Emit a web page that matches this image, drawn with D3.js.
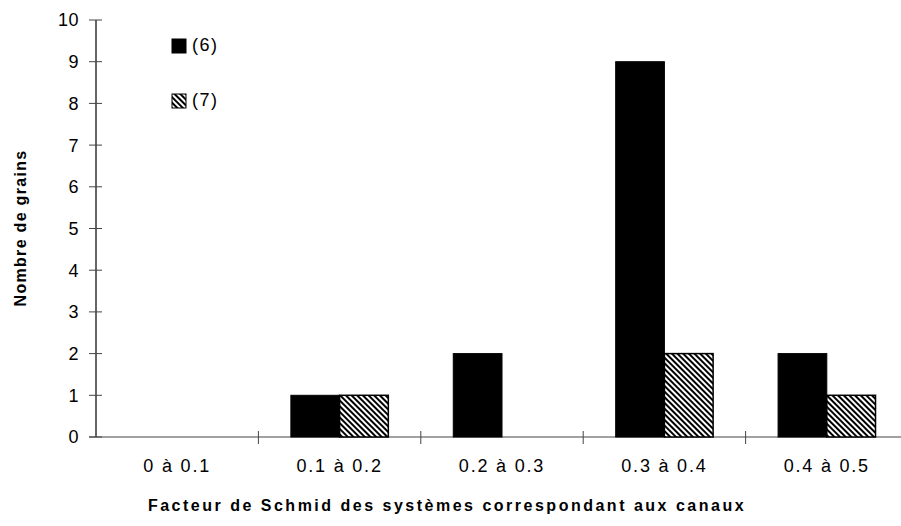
<!DOCTYPE html>
<html><head><meta charset="utf-8">
<script src="https://cdn.jsdelivr.net/npm/d3@7"></script>
<style>body{margin:0;background:#fff}svg{display:block}</style>
</head><body>
<svg id="c" width="901" height="526"></svg>
<script>
const categories = ["0 à 0.1","0.1 à 0.2","0.2 à 0.3","0.3 à 0.4","0.4 à 0.5"];
const series6 = [0,1,2,9,2];
const series7 = [0,1,0,2,1];
const seriesNames = ["(6)","(7)"];
const yTicks = [0,1,2,3,4,5,6,7,8,9,10];

const FONT = "Liberation Sans, Arial, sans-serif";
const svg = d3.select("#c");
const defs = svg.append("defs");
const pat = defs.append("pattern").attr("id","hatch").attr("patternUnits","userSpaceOnUse")
  .attr("width",4).attr("height",4).attr("patternTransform","rotate(-45)");
pat.append("rect").attr("width",4).attr("height",4).attr("fill","#fff");
pat.append("rect").attr("x",0).attr("y",0).attr("width",2).attr("height",4).attr("fill","#000");

const x = d3.scaleBand().domain(categories).range([96,908]).paddingInner(0).paddingOuter(0);
const y = d3.scaleLinear().domain([0,10]).range([437,20]);
const bw = x.bandwidth()*0.3;

// y axis
const ya = svg.append("g");
ya.append("line").attr("x1",96).attr("x2",96).attr("y1",y(10)).attr("y2",y(0)).attr("stroke","#000").attr("stroke-width",1.2);
ya.selectAll("line.t").data(yTicks).join("line").attr("class","t")
  .attr("x1",89).attr("x2",102).attr("y1",d=>y(d)).attr("y2",d=>y(d)).attr("stroke","#444").attr("stroke-width",1);
ya.selectAll("text").data(yTicks).join("text")
  .attr("x",79).attr("y",d=>y(d)).attr("dy","0.36em").attr("text-anchor","end")
  .attr("font-family",FONT).attr("font-size",18).attr("letter-spacing","0.5px").text(d=>d);

// x axis
const xa = svg.append("g");
xa.append("line").attr("x1",89).attr("x2",901).attr("y1",y(0)).attr("y2",y(0)).attr("stroke","#444").attr("stroke-width",1.2);
const bounds = categories.map(c=>x(c));
xa.selectAll("line.t").data(bounds.slice(1)).join("line").attr("class","t")
  .attr("x1",d=>d).attr("x2",d=>d).attr("y1",y(0)-6).attr("y2",y(0)+7).attr("stroke","#444");
xa.selectAll("text").data(categories).join("text")
  .attr("x",d=>x(d)+x.bandwidth()/2).attr("y",472).attr("text-anchor","middle")
  .attr("font-family",FONT).attr("font-size",18).attr("letter-spacing","1.8px").text(d=>d);

// bars
const g = svg.append("g");
g.selectAll("rect.s6").data(categories.map((c,i)=>({c,v:series6[i]})).filter(d=>d.v>0)).join("rect")
  .attr("x",d=>x(d.c)+x.bandwidth()/2-bw).attr("width",bw)
  .attr("y",d=>y(d.v)).attr("height",d=>y(0)-y(d.v))
  .attr("fill","#000").attr("stroke","#000").attr("stroke-width",1);
g.selectAll("rect.s7").data(categories.map((c,i)=>({c,v:series7[i]})).filter(d=>d.v>0)).join("rect")
  .attr("x",d=>x(d.c)+x.bandwidth()/2).attr("width",bw)
  .attr("y",d=>y(d.v)).attr("height",d=>y(0)-y(d.v))
  .attr("fill","url(#hatch)").attr("stroke","#000").attr("stroke-width",1.5);

// legend
const lg = svg.append("g");
const legY = [46,101];
lg.selectAll("rect").data(seriesNames).join("rect")
  .attr("x",172).attr("y",(d,i)=>legY[i]-7).attr("width",14).attr("height",14)
  .attr("fill",(d,i)=>i===0?"#000":"url(#hatch)").attr("stroke","#000").attr("stroke-width",1);
lg.selectAll("text").data(seriesNames).join("text")
  .attr("x",192).attr("y",(d,i)=>legY[i]).attr("dy","0.3em")
  .attr("font-family",FONT).attr("font-size",18).attr("letter-spacing","1.5px").text(d=>d);

// titles
svg.append("text").attr("x",447).attr("y",511).attr("text-anchor","middle")
  .attr("font-family",FONT).attr("font-size",16).attr("font-weight","bold")
  .attr("letter-spacing","2.5px").text("Facteur de Schmid des systèmes correspondant aux canaux");
svg.append("text").attr("transform","translate(26,228) rotate(-90)").attr("text-anchor","middle")
  .attr("font-family",FONT).attr("font-size",16).attr("font-weight","bold")
  .attr("letter-spacing","1.3px").text("Nombre de grains");
</script>
</body></html>
